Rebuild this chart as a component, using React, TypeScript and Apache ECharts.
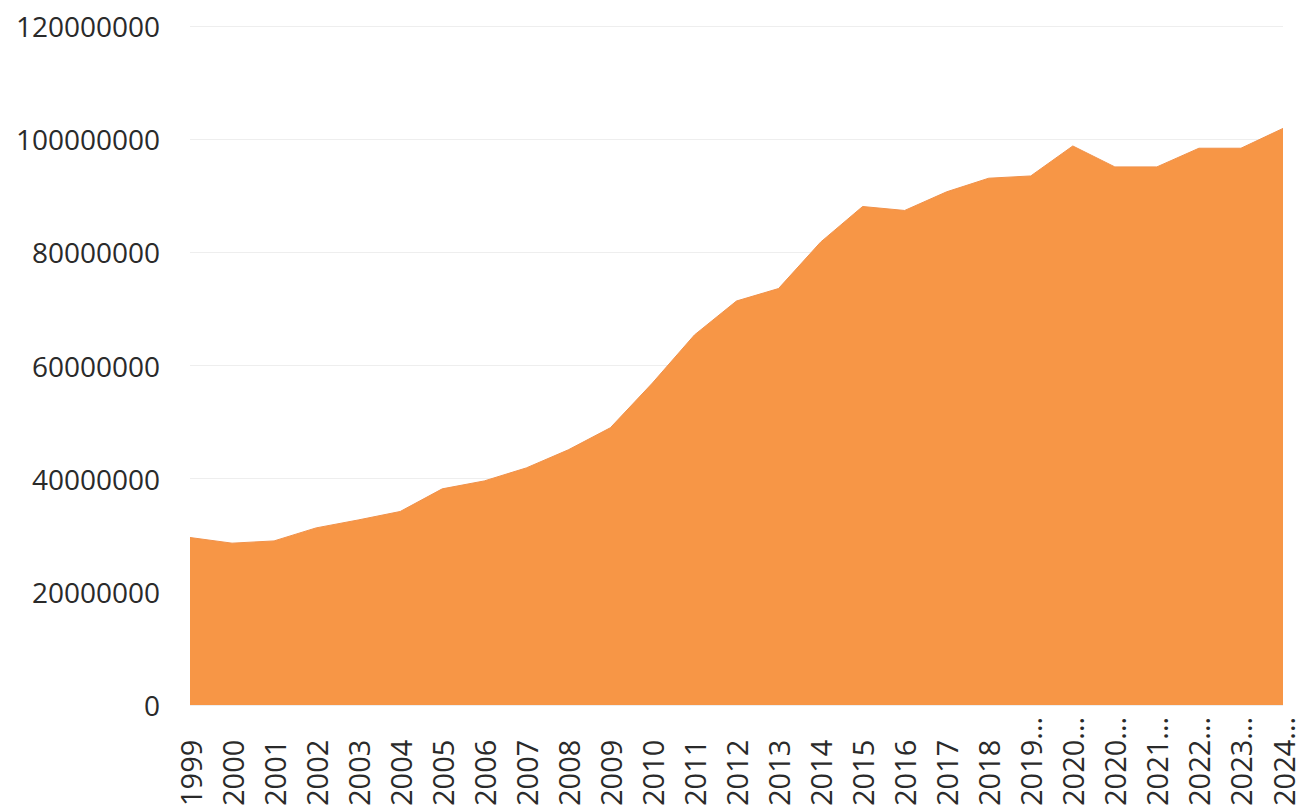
import React, { useEffect, useRef } from "react";
import * as echarts from "echarts";

const categories: string[] = [
  "1999", "2000", "2001", "2002", "2003", "2004", "2005", "2006", "2007",
  "2008", "2009", "2010", "2011", "2012", "2013", "2014", "2015", "2016",
  "2017", "2018", "2019...", "2020...", "2020...", "2021...", "2022...",
  "2023...", "2024...",
];

const values: number[] = [
  29600000, 28600000, 29000000, 31300000, 32700000, 34200000, 38200000,
  39600000, 41900000, 45100000, 49000000, 56900000, 65400000, 71400000,
  73600000, 81800000, 88100000, 87400000, 90700000, 93100000, 93500000,
  98800000, 95100000, 95100000, 98400000, 98400000, 101900000,
];

const yMin = 0;
const yMax = 120000000;
const yStep = 20000000;

export default function App() {
  const ref = useRef<HTMLDivElement>(null);

  useEffect(() => {
    if (!ref.current) return;
    const chart = echarts.init(ref.current, undefined, { renderer: "svg" });
    chart.setOption({
      animation: false,
      backgroundColor: "#ffffff",
      grid: {
        left: 190,
        right: 23,
        top: 26,
        bottom: 104,
        containLabel: false,
        outerBoundsMode: "none",
      },
      xAxis: {
        type: "category",
        data: categories,
        boundaryGap: false,
        axisLine: { show: false },
        axisTick: { show: false },
        axisLabel: {
          rotate: 90,
          interval: 0,
          margin: 101,
          align: "left",
          verticalAlign: "middle",
          fontSize: 29,
          fontFamily: "Open Sans",
          color: "#2a2a2a",
        },
        splitLine: { show: false },
      },
      yAxis: {
        type: "value",
        min: yMin,
        max: yMax,
        interval: yStep,
        axisLine: { show: false },
        axisTick: { show: false },
        axisLabel: {
          margin: 30,
          fontSize: 28,
          fontFamily: "Open Sans",
          color: "#2a2a2a",
          formatter: (v: number) => String(v),
        },
        splitLine: { show: true, lineStyle: { color: "#eeeeee", width: 1 } },
      },
      series: [
        {
          type: "line",
          data: values,
          symbol: "none",
          lineStyle: { color: "#F0914A", width: 1 },
          areaStyle: { color: "#F79646", opacity: 1 },
          itemStyle: { color: "#F79646" },
        },
      ],
    });
    return () => chart.dispose();
  }, []);

  return (
    <div
      ref={ref}
      style={{ position: "fixed", left: 0, top: 0, width: 1306, height: 809 }}
    />
  );
}
